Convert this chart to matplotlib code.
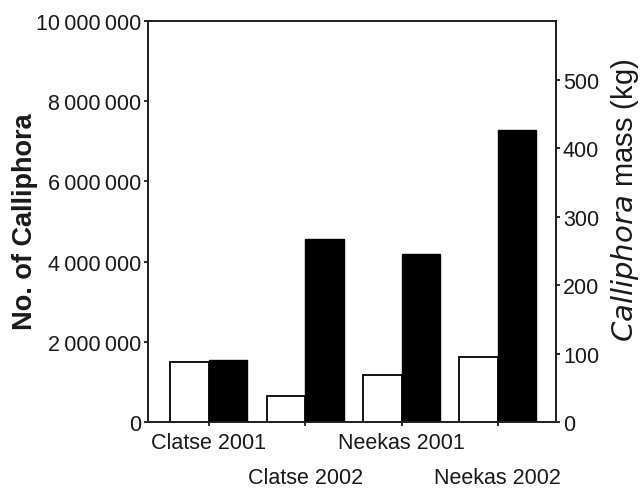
import matplotlib
matplotlib.use("Agg")
import matplotlib.pyplot as plt
from matplotlib.ticker import FixedLocator

plt.rcParams['font.family'] = ['Liberation Sans', 'DejaVu Sans']

sites = ["Clatse 2001", "Clatse 2002", "Neekas 2001", "Neekas 2002"]
counts = [1_500_000, 650_000, 1_160_000, 1_630_000]   # No. of Calliphora
mass_kg = [91, 268, 246, 427]                         # Calliphora mass (kg)
count_ticks = [0, 2_000_000, 4_000_000, 6_000_000, 8_000_000, 10_000_000]
mass_ticks = [0, 100, 200, 300, 400, 500]

fig = plt.figure(figsize=(6.41, 4.89), dpi=100)
ax = fig.add_axes([148 / 641, 1 - 423 / 489, (556 - 148) / 641, (423 - 22) / 489])
ax2 = ax.twinx()

x = list(range(len(sites)))
w = 0.40
ax.bar(x, counts, width=-w, align='edge', color='white', edgecolor='black',
       linewidth=1.3, zorder=2)
ax2.bar(x, mass_kg, width=w, align='edge', color='black', edgecolor='black',
        linewidth=1.0, zorder=2)

ax.set_xlim(-0.633, 3.603)
ax.set_ylim(0, 10_000_000)
ax2.set_ylim(0, 586)

def fmt_count(v):
    return f"{int(v):,}".replace(",", "\u2009")

ax.yaxis.set_major_locator(FixedLocator(count_ticks))
ax.set_yticklabels([fmt_count(v) for v in count_ticks])
ax2.yaxis.set_major_locator(FixedLocator(mass_ticks))
ax2.set_yticklabels([str(v) for v in mass_ticks])

ax.set_xticks(x)
ax.set_xticklabels(sites)
for i, lbl in enumerate(ax.get_xticklabels()):
    if i % 2 == 1:
        lbl.set_y(-0.089)

txt_color = '#1a1a1a'
ax.tick_params(axis='y', labelsize=15.5, length=3, width=1.3, pad=2, colors=txt_color)
ax.tick_params(axis='x', labelsize=15.5, length=3, width=1.3, pad=4, colors=txt_color)
ax2.tick_params(axis='y', labelsize=15.5, length=3, width=1.3, pad=2, colors=txt_color)

for a in (ax, ax2):
    for s in a.spines.values():
        s.set_linewidth(1.3)
        s.set_color('#222222')

fig.text(25 / 641, 1 - 222 / 489, "No. of Calliphora", rotation=90,
         ha='center', va='center', fontsize=19.5, fontweight='bold', color=txt_color)
fig.text(625 / 641, 1 - 200 / 489, r"$\it{Calliphora}$ mass (kg)", rotation=90,
         ha='center', va='center', fontsize=21, color=txt_color)

fig.savefig("out.png", dpi=100)
